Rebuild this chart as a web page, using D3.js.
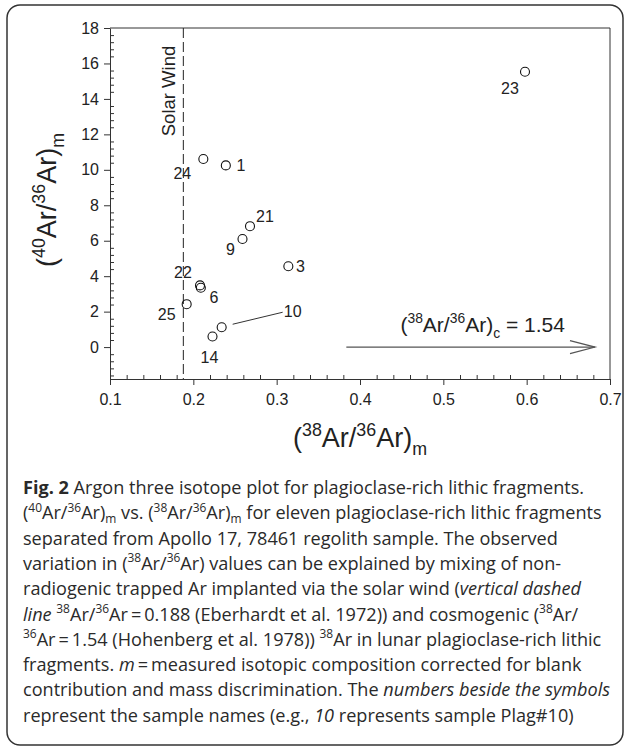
<!DOCTYPE html>
<html>
<head>
<meta charset="utf-8">
<script src="https://cdn.jsdelivr.net/npm/d3@7"></script>
<style>
  body { margin: 0; background: #fff; }
  svg { display: block; }
  .axis text { font-family: "Liberation Sans", Arial, sans-serif; font-size: 16px; fill: #222; }
  .axis path, .axis line { stroke: #333; }
</style>
</head>
<body>
<svg id="fig" width="625" height="748"></svg>
<script>
// sample names and measured ratios
const samples = ["1", "3", "6", "9", "10", "14", "21", "22", "23", "24", "25"];
const ar38_36 = [0.239, 0.314, 0.209, 0.259, 0.234, 0.223, 0.268, 0.208, 0.598, 0.212, 0.192];
const ar40_36 = [10.25, 4.56, 3.35, 6.10, 1.12, 0.60, 6.82, 3.48, 15.53, 10.61, 2.42];
// label offsets in px from each symbol
const labelDx = [15, 12, 13, -12, 71, -3, 15, -17, -15, -21, -20];
const labelDy = [0, 0, 10, 11, -16, 21, -10, -13, 17, 14, 10];

const solarWind = 0.188;
const cosmoStart = 0.3836, cosmoEnd = 0.682;
const xTicks = [0.1, 0.2, 0.3, 0.4, 0.5, 0.6, 0.7];
const yTicks = [0, 2, 4, 6, 8, 10, 12, 14, 16, 18];

const svg = d3.select("#fig");
const margin = {top: 28, left: 110, right: 15, bottom: 369};
const W = 625, H = 748;
const plotW = W - margin.left - margin.right,
      plotH = H - margin.top - margin.bottom;

// outer rounded frame
svg.append("rect")
  .attr("x", 7).attr("y", 5).attr("width", 616).attr("height", 740)
  .attr("rx", 13).attr("fill", "none").attr("stroke", "#333").attr("stroke-width", 1.5);

const g = svg.append("g").attr("transform", `translate(${margin.left},${margin.top})`);

const x = d3.scaleLinear().domain([0.1, 0.7]).range([0, plotW]);
const y = d3.scaleLinear().domain([-1.8, 18]).range([plotH, 0]);

const xMinor = d3.range(0.12, 0.7, 0.02).filter(v => Math.abs(v * 10 - Math.round(v * 10)) > 1e-6);
const yMinor = d3.range(-1.6, 18, 0.4).filter(v => Math.abs(v / 2 - Math.round(v / 2)) > 1e-6);

// minor ticks point inward, majors outward
g.append("g").attr("class", "axis")
  .attr("transform", `translate(0,${plotH})`)
  .call(d3.axisBottom(x).tickValues(xMinor).tickSize(-4).tickFormat(""))
  .call(a => a.select(".domain").remove());
g.append("g").attr("class", "axis")
  .attr("transform", `translate(0,${plotH})`)
  .call(d3.axisBottom(x).tickValues(xTicks).tickSizeInner(6).tickSizeOuter(0).tickPadding(9)
    .tickFormat(d3.format(".1f")));

g.append("g").attr("class", "axis")
  .call(d3.axisLeft(y).tickValues(yMinor).tickSize(-4).tickFormat(""))
  .call(a => a.select(".domain").remove());
g.append("g").attr("class", "axis")
  .call(d3.axisLeft(y).tickValues(yTicks).tickSizeInner(6).tickSizeOuter(0).tickPadding(5));

// top and right frame
g.append("path")
  .attr("d", `M0,0H${plotW}V${plotH}`)
  .attr("fill", "none").attr("stroke", "#333");

// solar wind line
g.append("line")
  .attr("x1", x(solarWind)).attr("x2", x(solarWind))
  .attr("y1", 0).attr("y2", plotH)
  .attr("stroke", "#222").attr("stroke-dasharray", "10,4");
g.append("text")
  .attr("transform", `translate(${x(solarWind) - 8},63)rotate(-90)`)
  .attr("text-anchor", "middle")
  .style("font", "18.5px 'Liberation Sans', Arial, sans-serif").attr("fill", "#222")
  .text("Solar Wind");

// cosmogenic arrow
const ay = y(0);
g.append("line")
  .attr("x1", x(cosmoStart)).attr("x2", x(cosmoEnd))
  .attr("y1", ay).attr("y2", ay)
  .attr("stroke", "#555").attr("stroke-width", 1.2);
g.append("path")
  .attr("d", `M${x(cosmoEnd) - 25},${ay - 6.5}L${x(cosmoEnd)},${ay}L${x(cosmoEnd) - 25},${ay + 6.5}`)
  .attr("fill", "none").attr("stroke", "#555").attr("stroke-width", 1.2);

function rich(sel, segs, fs, subShift) {
  let shift = 0;
  segs.forEach(s => {
    const [txt, kind] = typeof s === "string" ? [s, ""] : s;
    const t = sel.append("tspan").text(txt);
    let target = 0;
    if (kind === "sup") { target = -0.42 * fs; t.attr("font-size", fs * 0.66); }
    else if (kind === "sub") { target = (subShift || 0.28) * fs; t.attr("font-size", fs * 0.66); }
    if (kind === "b") t.attr("font-weight", "bold");
    if (kind === "i") t.attr("font-style", "italic");
    if (target !== shift) { t.attr("dy", target - shift); shift = target; }
  });
}

const ratio = (a, b, sub) => ["(", [a, "sup"], "Ar/", [b, "sup"], "Ar)", [sub, "sub"]];

const cosLab = g.append("text")
  .attr("x", (x(cosmoStart) + x(cosmoEnd)) / 2 + 12).attr("y", ay - 15)
  .attr("text-anchor", "middle")
  .style("font-family", "'Liberation Sans', Arial, sans-serif").attr("font-size", 21).attr("fill", "#222");
rich(cosLab, [...ratio("38", "36", "c"), [" = 1.54", ""]], 21);

// leader line for sample 10
const i10 = samples.indexOf("10");
g.append("line")
  .attr("x1", x(ar38_36[i10]) + 11).attr("y1", y(ar40_36[i10]) - 3)
  .attr("x2", x(ar38_36[i10]) + 61).attr("y2", y(ar40_36[i10]) - 15)
  .attr("stroke", "#333");

// symbols
g.selectAll("circle.pt").data(samples).join("circle")
  .attr("class", "pt")
  .attr("cx", (d, i) => x(ar38_36[i]))
  .attr("cy", (d, i) => y(ar40_36[i]))
  .attr("r", 4.5)
  .attr("fill", "none").attr("stroke", "#111").attr("stroke-width", 1.1);

g.selectAll("text.lab").data(samples).join("text")
  .attr("class", "lab")
  .attr("x", (d, i) => x(ar38_36[i]) + labelDx[i])
  .attr("y", (d, i) => y(ar40_36[i]) + labelDy[i] + 5.5)
  .attr("text-anchor", "middle")
  .style("font", "16px 'Liberation Sans', Arial, sans-serif").attr("fill", "#222")
  .text(d => d);

// axis titles
const xt = svg.append("text")
  .attr("x", 360).attr("y", 447).attr("text-anchor", "middle")
  .style("font-family", "'Liberation Sans', Arial, sans-serif").attr("font-size", 27).attr("fill", "#222");
rich(xt, ratio("38", "36", "m"), 27);

const yt = svg.append("text")
  .attr("transform", "translate(56,200)rotate(-90)").attr("text-anchor", "middle")
  .style("font-family", "'Liberation Sans', Arial, sans-serif").attr("font-size", 27).attr("fill", "#222");
rich(yt, ratio("40", "36", "m"), 27);

// caption
const caption = [
  [["Fig. 2", "b"], " Argon three isotope plot for plagioclase-rich lithic fragments."],
  [...ratio("40", "36", "m"), " vs. ", ...ratio("38", "36", "m"), " for eleven plagioclase-rich lithic fragments"],
  ["separated from Apollo 17, 78461 regolith sample. The observed"],
  ["variation in (", ["38", "sup"], "Ar/", ["36", "sup"], "Ar) values can be explained by mixing of non-"],
  ["radiogenic trapped Ar implanted via the solar wind (", ["vertical dashed", "i"]],
  [["line", "i"], " ", ["38", "sup"], "Ar/", ["36", "sup"], "Ar\u2009=\u20090.188 (Eberhardt et al. 1972)) and cosmogenic (", ["38", "sup"], "Ar/"],
  [["36", "sup"], "Ar\u2009=\u20091.54 (Hohenberg et al. 1978)) ", ["38", "sup"], "Ar in lunar plagioclase-rich lithic"],
  ["fragments. ", ["m", "i"], "\u2009=\u2009measured isotopic composition corrected for blank"],
  ["contribution and mass discrimination. The ", ["numbers beside the symbols", "i"]],
  ["represent the sample names (e.g., ", ["10", "i"], " represents sample Plag#10)"]
];
let capFs = 17;
const capG = svg.append("g")
  .style("font-family", "'Open Sans', 'Noto Sans', sans-serif").attr("fill", "#2a2a2a");
function drawCaption(fs) {
  capG.selectAll("*").remove();
  caption.forEach((segs, k) => {
    const t = capG.append("text").attr("x", 23).attr("y", 494 + k * 25.3).attr("font-size", fs);
    rich(t, segs, fs, 0.18);
  });
}
drawCaption(capFs);
// fit second line to the width seen in the figure
const w2 = capG.selectAll("text").nodes()[1].getComputedTextLength();
capFs = capFs * 579 / w2;
drawCaption(capFs);
</script>
</body>
</html>
